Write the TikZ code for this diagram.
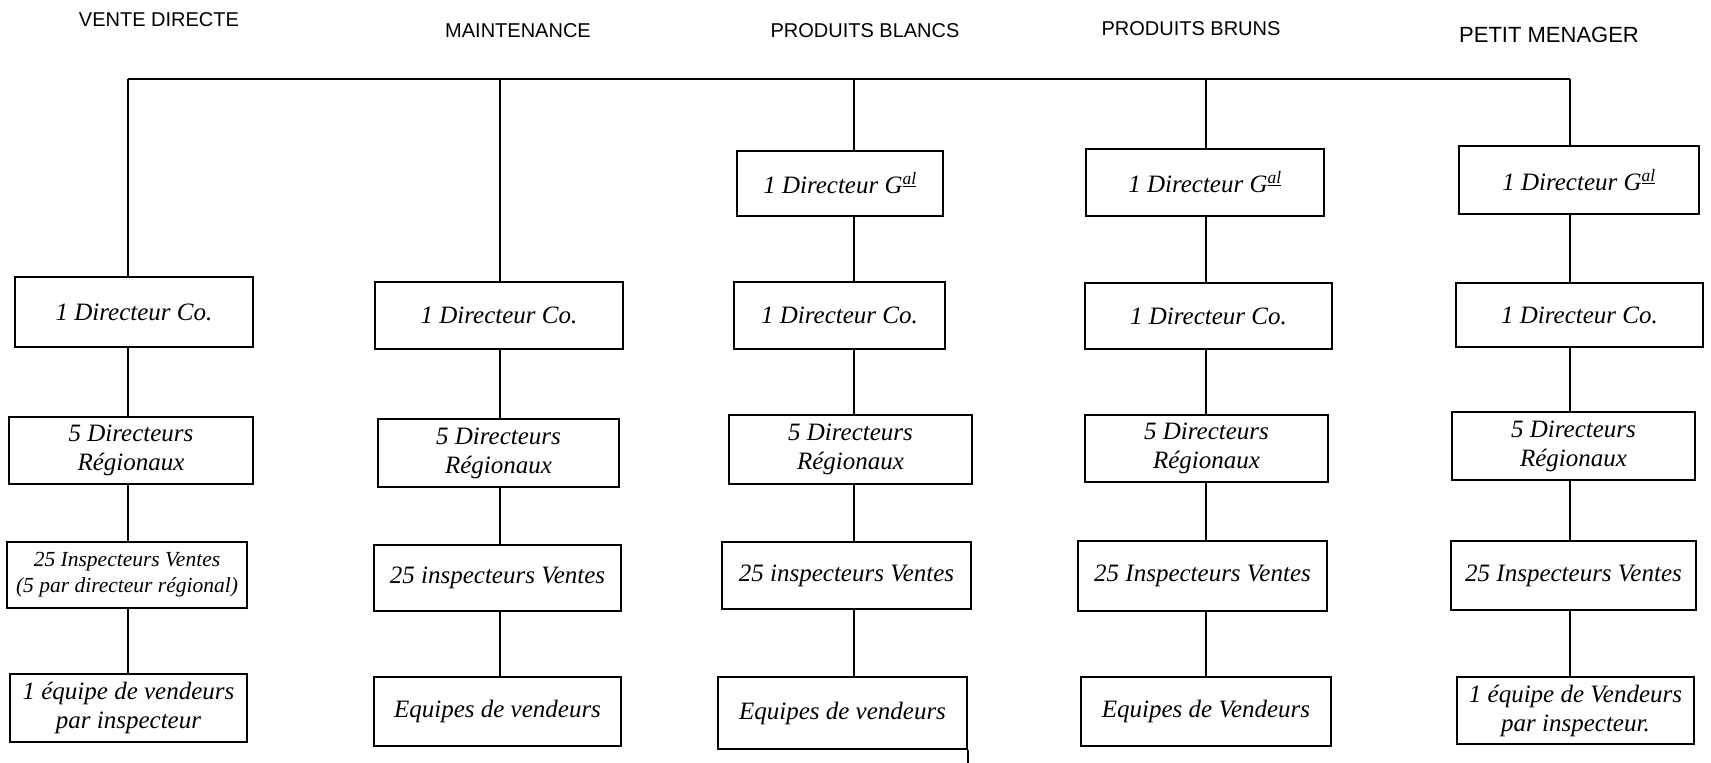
\documentclass[tikz,border=0pt]{standalone}
\usepackage{fontspec}
\setmainfont{Liberation Serif}
\setsansfont{Liberation Sans}
\begin{document}
\begin{tikzpicture}[x=1pt,y=-1pt,
  box/.style={draw, line width=1.8pt, inner sep=0pt, align=center,
    font=\fontsize{25}{29}\selectfont\itshape},
  head/.style={font=\fontsize{20}{24}\selectfont\sffamily},
  link/.style={line width=1.6pt}]
\useasboundingbox (0,0) rectangle (1711,763);
% titles
\node[head] (h1) at (159,20) {VENTE DIRECTE};
\node[head] (h2) at (518,31) {MAINTENANCE};
\node[head] (h3) at (865,31) {PRODUITS BLANCS};
\node[head] (h4) at (1191,29) {PRODUITS BRUNS};
\node[head, font=\fontsize{22}{26}\selectfont\sffamily] (h5) at (1549,35) {PETIT MENAGER};
% top bar coordinates
\coordinate (t1) at (128,79);
\coordinate (t2) at (500,79);
\coordinate (t3) at (854,79);
\coordinate (t4) at (1206,79);
\coordinate (t5) at (1570,79);
% column 1
\node[box, minimum width=238pt, minimum height=70pt] (d1) at (134,312) {1 Directeur Co.};
\node[box, minimum width=244pt, minimum height=67pt] (r1) at (131,450.5) {5 Directeurs\\Régionaux};
\node[box, minimum width=240pt, minimum height=66pt, font=\fontsize{21.5}{26}\selectfont\itshape] (i1) at (127,575) {25 Inspecteurs Ventes\\(5 par directeur régional)};
\node[box, minimum width=237pt, minimum height=68pt] (e1) at (128.5,708) {1 équipe de vendeurs\\par inspecteur};
% column 2
\node[box, minimum width=248pt, minimum height=67pt] (d2) at (499,315.5) {1 Directeur Co.};
\node[box, minimum width=241pt, minimum height=68pt] (r2) at (498.5,453) {5 Directeurs\\Régionaux};
\node[box, minimum width=247pt, minimum height=66pt] (i2) at (497.5,578) {25 inspecteurs Ventes};
\node[box, minimum width=247pt, minimum height=69pt] (e2) at (497.5,711.5) {Equipes de vendeurs};
% column 3
\node[box, minimum width=206pt, minimum height=65pt] (g3) at (840,183.5) {1 Directeur G\textsuperscript{\underline{al}}};
\node[box, minimum width=211pt, minimum height=67pt] (d3) at (839.5,315.5) {1 Directeur Co.};
\node[box, minimum width=243pt, minimum height=69pt] (r3) at (850.5,449.5) {5 Directeurs\\Régionaux};
\node[box, minimum width=249pt, minimum height=67pt] (i3) at (846.5,575.5) {25 inspecteurs Ventes};
\node[box, minimum width=249pt, minimum height=72pt] (e3) at (842.5,713) {Equipes de vendeurs};
% column 4
\node[box, minimum width=238pt, minimum height=67pt] (g4) at (1205,182.5) {1 Directeur G\textsuperscript{\underline{al}}};
\node[box, minimum width=247pt, minimum height=66pt] (d4) at (1208.5,316) {1 Directeur Co.};
\node[box, minimum width=243pt, minimum height=67pt] (r4) at (1206.5,448.5) {5 Directeurs\\Régionaux};
\node[box, minimum width=249pt, minimum height=70pt] (i4) at (1202.5,576) {25 Inspecteurs Ventes};
\node[box, minimum width=250pt, minimum height=69pt] (e4) at (1206,711.5) {Equipes de Vendeurs};
% column 5
\node[box, minimum width=240pt, minimum height=68pt] (g5) at (1579,180) {1 Directeur G\textsuperscript{\underline{al}}};
\node[box, minimum width=247pt, minimum height=64pt] (d5) at (1579.5,315) {1 Directeur Co.};
\node[box, minimum width=243pt, minimum height=68pt] (r5) at (1573.5,446) {5 Directeurs\\Régionaux};
\node[box, minimum width=245pt, minimum height=69pt] (i5) at (1573.5,575.5) {25 Inspecteurs Ventes};
\node[box, minimum width=237pt, minimum height=67pt] (e5) at (1575.5,710.5) {1 équipe de Vendeurs\\par inspecteur.};
% connectors
\draw[link] (t1) -- (t5);
\draw[link] (t1) -- (d1.north -| t1);
\draw[link] (d1.south -| t1) -- (r1.north -| t1);
\draw[link] (r1.south -| t1) -- (i1.north -| t1);
\draw[link] (i1.south -| t1) -- (e1.north -| t1);
\draw[link] (t2) -- (d2.north -| t2);
\draw[link] (d2.south -| t2) -- (r2.north -| t2);
\draw[link] (r2.south -| t2) -- (i2.north -| t2);
\draw[link] (i2.south -| t2) -- (e2.north -| t2);
\draw[link] (t3) -- (g3.north -| t3);
\draw[link] (g3.south -| t3) -- (d3.north -| t3);
\draw[link] (d3.south -| t3) -- (r3.north -| t3);
\draw[link] (r3.south -| t3) -- (i3.north -| t3);
\draw[link] (i3.south -| t3) -- (e3.north -| t3);
\draw[link] (t4) -- (g4.north -| t4);
\draw[link] (g4.south -| t4) -- (d4.north -| t4);
\draw[link] (d4.south -| t4) -- (r4.north -| t4);
\draw[link] (r4.south -| t4) -- (i4.north -| t4);
\draw[link] (i4.south -| t4) -- (e4.north -| t4);
\draw[link] (t5) -- (g5.north -| t5);
\draw[link] (g5.south -| t5) -- (d5.north -| t5);
\draw[link] (d5.south -| t5) -- (r5.north -| t5);
\draw[link] (r5.south -| t5) -- (i5.north -| t5);
\draw[link] (i5.south -| t5) -- (e5.north -| t5);
% stray stroke below the Produits Blancs last box
\coordinate (s3) at (966,763);
\draw[link] (e3.south east) -- (e3.south east |- s3);
\end{tikzpicture}
\end{document}
